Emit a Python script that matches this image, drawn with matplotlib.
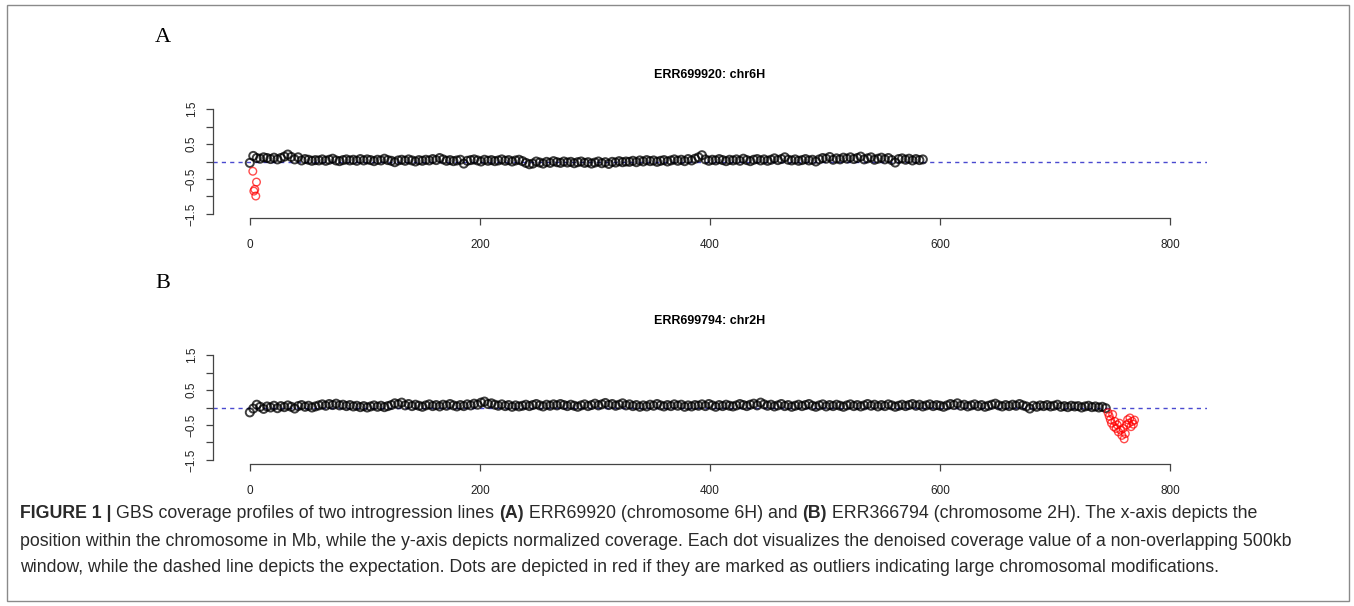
import numpy as np
import matplotlib
matplotlib.use("Agg")
import matplotlib.pyplot as plt
from matplotlib.patches import Rectangle

W, H = 1354, 606

# panel A: ERR699920 chr6H, 3 Mb steps from 0 to 585 Mb
a_pos = np.arange(0, 588, 3)
a_cov = [
    -0.04, 0.16, 0.10, 0.08, 0.12, 0.10, 0.07, 0.11, 0.06, 0.10,
    0.14, 0.20, 0.13, 0.06, 0.12, 0.03, 0.07, 0.05, 0.02, 0.04,
    0.03, 0.06, 0.02, 0.05, 0.08, 0.03, 0.01, 0.04, 0.06, 0.03,
    0.05, 0.02, 0.07, 0.03, 0.06, 0.04, 0.01, 0.05, 0.03, 0.08,
    0.04, 0.02, -0.02, 0.03, 0.05, 0.02, 0.06, 0.03, 0.00, 0.04,
    0.02, 0.05, 0.03, 0.07, 0.04, 0.10, 0.06, 0.02, 0.04, 0.01,
    0.03, 0.05, -0.06, 0.02, 0.04, 0.06, 0.03, 0.00, 0.05, 0.02,
    0.04, 0.01, 0.03, 0.06, 0.02, 0.04, 0.00, 0.03, 0.05, 0.01,
    -0.04, -0.08, -0.06, 0.00, -0.03, -0.06, -0.01, -0.04, 0.01, -0.02,
    -0.04, 0.00, -0.03, -0.01, -0.05, -0.02, 0.00, -0.04, -0.02, -0.06,
    -0.03, 0.00, -0.05, -0.02, -0.07, -0.01, -0.03, 0.01, -0.02, 0.00,
    -0.01, 0.02, -0.02, 0.03, 0.00, 0.04, 0.01, 0.03, -0.01, 0.02,
    0.04, 0.00, 0.03, 0.06, 0.02, 0.05, 0.01, 0.07, 0.03, 0.08,
    0.12, 0.18, 0.06, 0.02, 0.05, 0.03, 0.07, 0.04, 0.01, 0.05,
    0.03, 0.06, 0.02, 0.08, 0.04, 0.01, 0.05, 0.07, 0.03, 0.06,
    0.02, 0.05, 0.09, 0.04, 0.07, 0.12, 0.05, 0.03, 0.06, 0.02,
    0.04, 0.07, 0.03, 0.05, 0.00, 0.06, 0.10, 0.08, 0.13, 0.05,
    0.09, 0.06, 0.11, 0.08, 0.12, 0.07, 0.10, 0.14, 0.06, 0.09,
    0.12, 0.05, 0.08, 0.11, 0.06, 0.10, 0.04, -0.03, 0.07, 0.09,
    0.05, 0.08, 0.03, 0.07, 0.04, 0.06,
]
a_out_pos = [2.6, 5.8, 4.3, 3.5, 5.2]
a_out_cov = [-0.28, -0.59, -0.80, -0.85, -0.99]

# panel B: ERR699794 chr2H, 3 Mb steps from 0 to 744 Mb
b_pos = np.arange(0, 747, 3)
b_cov = [
    -0.14, -0.03, 0.08, 0.02, -0.04, 0.03, 0.00, 0.05, -0.02, 0.04,
    0.01, 0.06, 0.02, -0.03, 0.04, 0.07, 0.02, 0.05, 0.00, 0.03,
    0.06, 0.09, 0.05, 0.10, 0.07, 0.11, 0.06, 0.08, 0.04, 0.07,
    0.03, 0.05, 0.01, 0.04, 0.00, 0.03, 0.06, 0.02, 0.05, 0.01,
    0.04, 0.07, 0.12, 0.09, 0.14, 0.06, 0.10, 0.04, 0.08, 0.05,
    0.02, 0.06, 0.09, 0.04, 0.07, 0.03, 0.08, 0.05, 0.10, 0.06,
    0.03, 0.07, 0.04, 0.09, 0.06, 0.11, 0.08, 0.14, 0.17, 0.10,
    0.12, 0.08, 0.05, 0.09, 0.04, 0.07, 0.02, 0.06, 0.03, 0.05,
    0.08, 0.04, 0.07, 0.10, 0.06, 0.03, 0.08, 0.05, 0.09, 0.06,
    0.10, 0.07, 0.04, 0.08, 0.05, 0.02, 0.06, 0.09, 0.04, 0.07,
    0.11, 0.06, 0.09, 0.13, 0.07, 0.10, 0.05, 0.08, 0.12, 0.06,
    0.09, 0.04, 0.07, 0.02, 0.06, 0.03, 0.08, 0.05, 0.10, 0.06,
    0.03, 0.07, 0.04, 0.09, 0.05, 0.08, 0.02, 0.06, 0.03, 0.07,
    0.05, 0.09, 0.04, 0.10, 0.06, 0.02, 0.07, 0.04, 0.08, 0.05,
    0.03, 0.06, 0.10, 0.07, 0.04, 0.08, 0.11, 0.06, 0.14, 0.09,
    0.05, 0.08, 0.03, 0.06, 0.10, 0.04, 0.07, 0.02, 0.05, 0.08,
    0.04, 0.07, 0.10, 0.05, 0.02, 0.06, 0.09, 0.03, 0.07, 0.04,
    0.08, 0.05, 0.02, 0.06, 0.09, 0.04, 0.07, 0.03, 0.06, 0.10,
    0.05, 0.08, 0.03, 0.07, 0.04, 0.09, 0.06, 0.02, 0.05, 0.08,
    0.04, 0.07, 0.10, 0.05, 0.08, 0.03, 0.06, 0.09, 0.04, 0.07,
    0.05, 0.02, 0.06, 0.10, 0.07, 0.12, 0.05, 0.08, 0.03, 0.06,
    0.09, 0.04, 0.07, 0.02, 0.05, 0.08, 0.11, 0.06, 0.03, 0.07,
    0.04, 0.08, 0.05, 0.10, 0.06, 0.03, -0.03, 0.05, 0.02, 0.06,
    0.04, 0.07, 0.03, 0.05, 0.08, 0.02, 0.04, 0.01, 0.05, 0.03,
    0.04, 0.00, 0.03, 0.05, 0.01, 0.03, 0.00, 0.02, -0.02,
]
b_out_pos = [746, 747, 748, 749, 750, 751, 752, 753, 754, 755, 756, 757,
             758, 759, 760, 761, 762, 763, 764, 765, 766, 767, 768, 769]
b_out_cov = [-0.15, -0.25, -0.35, -0.45, -0.20, -0.55, -0.40, -0.60, -0.50,
             -0.70, -0.45, -0.65, -0.80, -0.60, -0.90, -0.75, -0.50, -0.35,
             -0.45, -0.30, -0.55, -0.40, -0.48, -0.36]

x_ticks = [0, 200, 400, 600, 800]
y_ticks = [-1.5, -1.0, -0.5, 0.0, 0.5, 1.0, 1.5]
y_labels = ["\u22121.5", "", "\u22120.5", "", "0.5", "", "1.5"]

fig = plt.figure(figsize=(W / 100, H / 100), dpi=100)
plt.rcParams["font.family"] = ["Liberation Sans", "DejaVu Sans"]


def px_axes(left, top, right, bottom):
    return fig.add_axes([left / W, 1 - bottom / H, (right - left) / W, (bottom - top) / H])


def draw_panel(ax, title, pos, cov, out_pos, out_cov):
    ax.set_xlim(-32, 832)
    ax.set_ylim(-1.62, 1.62)
    ax.axhline(0, color="#4a4ad0", lw=1, ls=(0, (3, 3)), zorder=1)
    ax.scatter(pos, cov, s=34, facecolors="none", edgecolors="black",
               linewidths=1.4, alpha=0.75, zorder=2)
    ax.scatter(out_pos, out_cov, s=30, facecolors="none", edgecolors="red",
               linewidths=1.0, alpha=0.7, zorder=3)
    for side in ["top", "right"]:
        ax.spines[side].set_visible(False)
    ax.spines["left"].set_bounds(-1.5, 1.5)
    ax.spines["bottom"].set_bounds(0, 800)
    for side in ["left", "bottom"]:
        ax.spines[side].set_color("#444444")
        ax.spines[side].set_linewidth(0.9)
    ax.set_xticks(x_ticks)
    ax.set_xticklabels([str(t) for t in x_ticks])
    ax.set_yticks(y_ticks)
    ax.set_yticklabels(y_labels, rotation=90, va="center")
    ax.tick_params(axis="both", length=5, width=0.9, color="#444444",
                   labelsize=8.5, labelcolor="#222222")
    ax.tick_params(axis="x", pad=10)
    ax.tick_params(axis="y", pad=6)
    ax.patch.set_visible(False)
    ax.text(0.5, 1.0 + 30 / 113, title, transform=ax.transAxes, ha="center",
            va="center", fontsize=9, fontweight="bold")


ax_a = px_axes(213, 105, 1207, 218)
draw_panel(ax_a, "ERR699920: chr6H", a_pos, a_cov, a_out_pos, a_out_cov)
ax_b = px_axes(213, 351, 1207, 464)
draw_panel(ax_b, "ERR699794: chr2H", b_pos, b_cov, b_out_pos, b_out_cov)

fig.text(163 / W, 1 - 37 / H, "A", fontsize=16, family="Liberation Serif",
         ha="center", va="center")
fig.text(163 / W, 1 - 283 / H, "B", fontsize=16, family="Liberation Serif",
         ha="center", va="center")

# frame round the whole figure
fig.patches.append(Rectangle((7 / W, 1 - 601 / H), (1349 - 7) / W, (601 - 5) / H,
                             transform=fig.transFigure, fill=False,
                             edgecolor="#8a8a8a", lw=1))

# caption, drawn segment by segment so bold parts sit inline
caption = [
    [("FIGURE 1 | ", "bold"), ("GBS coverage profiles of two introgression lines ", "normal"),
     ("(A)", "bold"), (" ERR69920 (chromosome 6H) and ", "normal"), ("(B)", "bold"),
     (" ERR366794 (chromosome 2H). The x-axis depicts the", "normal")],
    [("position within the chromosome in Mb, while the y-axis depicts normalized coverage. "
      "Each dot visualizes the denoised coverage value of a non-overlapping 500kb", "normal")],
    [("window, while the dashed line depicts the expectation. Dots are depicted in red if "
      "they are marked as outliers indicating large chromosomal modifications.", "normal")],
]
cap_y = [514, 541, 568]
cap_size = 12.8
renderer = fig.canvas.get_renderer()
for line, yy in zip(caption, cap_y):
    x = 20
    for txt, weight in line:
        t = fig.text(x / W, 1 - yy / H, txt, fontsize=cap_size, fontweight=weight,
                     color="#2a2a2a", ha="left", va="center")
        x += t.get_window_extent(renderer).width

fig.savefig("out.png", dpi=100)
